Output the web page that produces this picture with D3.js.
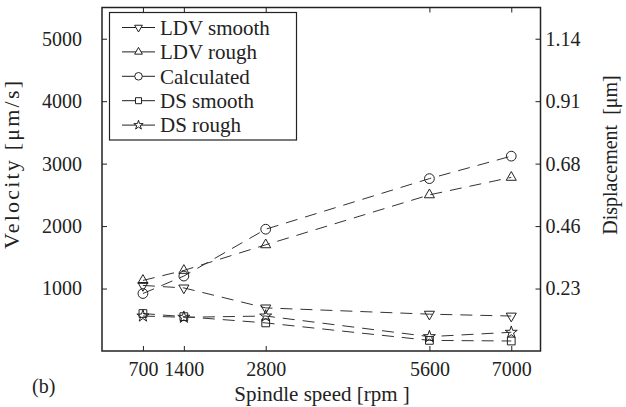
<!DOCTYPE html>
<html>
<head>
<meta charset="utf-8">
<script src="https://cdn.jsdelivr.net/npm/d3@7"></script>
</head>
<body style="margin:0; background:#fff">
<svg id="chart" width="626" height="407"></svg>
<script>
// spindle speeds (x) and series values in um/s
const speeds = [700, 1400, 2800, 5600, 7000];
const ldvSmooth = [1050, 1010, 690, 590, 560];
const ldvRough = [1130, 1290, 1700, 2500, 2780];
const calculated = [920, 1200, 1950, 2760, 3120];
const dsSmooth = [600, 550, 450, 170, 160];
const dsRough = [560, 540, 560, 230, 300];

const seriesNames = ["LDV smooth", "LDV rough", "Calculated", "DS smooth", "DS rough"];
const velTicks = [1000, 2000, 3000, 4000, 5000];
const dispTicks = [0.228, 0.456, 0.684, 0.912, 1.14];
const umPerVel = 0.228 / 1000;   // right axis = velocity * factor

const FONT = "Liberation Serif, Times New Roman, Times, serif";

const series = [
  { name: seriesNames[0], values: ldvSmooth, sym: "down" },
  { name: seriesNames[1], values: ldvRough, sym: "up" },
  { name: seriesNames[2], values: calculated, sym: "circle" },
  { name: seriesNames[3], values: dsSmooth, sym: "square" },
  { name: seriesNames[4], values: dsRough, sym: "star" }
];

const svg = d3.select("#chart");
const plot = { left: 102, right: 540.5, top: 7.5, bottom: 351 };

const x = d3.scaleLinear().domain([0, 7500]).range([plot.left, plot.right]);
const y = d3.scaleLinear().domain([0, 5500]).range([plot.bottom, plot.top]);
const y2 = d3.scaleLinear().domain([0, 5500 * umPerVel]).range([plot.bottom, plot.top]);

// axes, ticks pointing inward
const gx = svg.append("g")
  .attr("transform", `translate(0,${plot.bottom})`)
  .call(d3.axisBottom(x).tickValues(speeds).tickSize(-5).tickPadding(11).tickFormat(d3.format("d")));
const gxt = svg.append("g")
  .attr("transform", `translate(0,${plot.top})`)
  .call(d3.axisTop(x).tickValues(speeds).tickSize(-5).tickFormat(""));
const gy = svg.append("g")
  .attr("transform", `translate(${plot.left},0)`)
  .call(d3.axisLeft(y).tickValues(velTicks).tickSize(-5).tickPadding(20).tickFormat(d3.format("d")));
const gy2 = svg.append("g")
  .attr("transform", `translate(${plot.right},0)`)
  .call(d3.axisRight(y2).tickValues(dispTicks).tickSize(-5).tickPadding(5)
    .tickFormat(d3.format(".2f")));

[gx, gxt, gy, gy2].forEach(g => {
  g.attr("font-family", FONT).attr("font-size", 20);
  g.select(".domain").remove();
  g.selectAll("line").attr("stroke", "#222").attr("stroke-width", 1);
  g.selectAll("text").attr("fill", "#222");
});

// frame
svg.append("rect")
  .attr("x", plot.left).attr("y", plot.top)
  .attr("width", plot.right - plot.left).attr("height", plot.bottom - plot.top)
  .attr("fill", "none").attr("stroke", "#222").attr("stroke-width", 1.5);

function symbolPath(kind, scale) {
  let s;
  if (kind === "up" || kind === "down") s = d3.symbol(d3.symbolTriangle, 44 * scale);
  else if (kind === "circle") s = d3.symbol(d3.symbolCircle, 75 * scale);
  else if (kind === "square") s = d3.symbol(d3.symbolSquare, 60 * scale);
  else s = d3.symbol(d3.symbolStar, 45 * scale);
  return s();
}
function symbolTransform(kind, cx, cy) {
  let t = `translate(${cx},${cy})`;
  if (kind === "down") t += " rotate(180)";
  return t;
}

const line = d3.line().x((d, i) => x(speeds[i])).y(d => y(d));

series.forEach(s => {
  svg.append("path")
    .datum(s.values)
    .attr("d", line)
    .attr("fill", "none")
    .attr("stroke", "#333")
    .attr("stroke-width", 1)
    .attr("stroke-dasharray", "12,8");

  svg.selectAll(null)
    .data(s.values)
    .enter()
    .append("path")
      .attr("d", symbolPath(s.sym, 1))
      .attr("transform", (d, i) => symbolTransform(s.sym, x(speeds[i]), y(d)))
      .attr("fill", "none")
      .attr("stroke", "#222")
      .attr("stroke-width", 1);
});

// legend
const legend = svg.append("g").attr("font-family", FONT);
legend.append("rect")
  .attr("x", 109.5).attr("y", 12.5).attr("width", 187).attr("height", 127.5)
  .attr("fill", "#fff").attr("stroke", "#222").attr("stroke-width", 1.2);
series.forEach((s, i) => {
  const ly = 27.5 + i * 24.4;
  legend.append("line")
    .attr("x1", 122).attr("x2", 155).attr("y1", ly).attr("y2", ly)
    .attr("stroke", "#222").attr("stroke-width", 1);
  legend.append("path")
    .attr("d", symbolPath(s.sym, 0.6))
    .attr("transform", symbolTransform(s.sym, 138.5, ly))
    .attr("fill", "#fff").attr("stroke", "#222").attr("stroke-width", 1);
  legend.append("text")
    .attr("x", 160).attr("y", ly).attr("dy", "0.35em")
    .attr("font-size", 21)
    .attr("fill", "#222")
    .text(s.name);
});

// titles
const titles = svg.append("g").attr("font-family", FONT).attr("fill", "#222");
titles.append("text")
  .attr("transform", "translate(19,165) rotate(-90)")
  .attr("text-anchor", "middle")
  .attr("font-size", 22)
  .attr("textLength", 168)
  .text("Velocity [μm/s]");

titles.append("text")
  .attr("transform", "translate(617,155) rotate(-90)")
  .attr("text-anchor", "middle")
  .attr("font-size", 20)
  .style("white-space", "pre")
  .text("Displacement  [μm]");

titles.append("text")
  .attr("x", 322).attr("y", 401)
  .attr("text-anchor", "middle")
  .attr("font-size", 21)
  .text("Spindle speed [rpm ]");

titles.append("text")
  .attr("x", 32).attr("y", 393)
  .attr("font-size", 20)
  .text("(b)");
</script>
</body>
</html>
